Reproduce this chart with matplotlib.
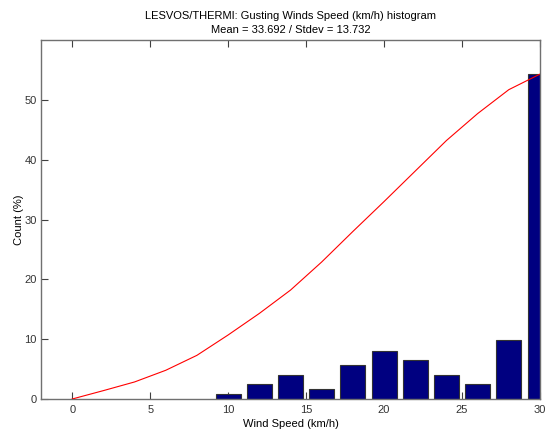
import matplotlib
matplotlib.use("Agg")
import matplotlib.pyplot as plt

# Data
bin_centers = [10, 12, 14, 16, 18, 20, 22, 24, 26, 28, 30]
counts = [0.85, 2.45, 4.0, 1.6, 5.6, 8.1, 6.45, 4.0, 2.45, 9.8, 54.4]
curve_x = [0, 2, 4, 6, 8, 10, 12, 14, 16, 18, 20, 22, 24, 26, 28, 30]
curve_y = [0, 1.4, 2.85, 4.8, 7.3, 10.7, 14.3, 18.2, 22.9, 28.0, 33.0, 38.1, 43.2, 47.7, 51.7, 54.3]
xticks = [0, 5, 10, 15, 20, 25, 30]
yticks = [0, 10, 20, 30, 40, 50]
title_text = "LESVOS/THERMI: Gusting Winds Speed (km/h) histogram\nMean = 33.692 / Stdev = 13.732"

plt.rcParams['font.family'] = ['Liberation Sans', 'DejaVu Sans']
plt.rcParams['font.size'] = 8

W, H = 545, 429
fig = plt.figure(figsize=(W / 100, H / 100), dpi=100)
l, r, b, t = 41, 540, 399, 40
ax = fig.add_axes([l / W, 1 - b / H, (r - l) / W, (b - t) / H])

ax.bar(bin_centers, counts, width=1.6, color='#000080', edgecolor='#333333', linewidth=0.8, zorder=2)
ax.plot(curve_x, curve_y, color='#ff0000', lw=0.8, zorder=3)

ax.set_xlim(-2, 30)
ax.set_ylim(0, 60)
ax.set_xticks(xticks)
ax.set_yticks(yticks)

spine_col = '#707070'
for s in ax.spines.values():
    s.set_color(spine_col)
    s.set_linewidth(1.0)
ax.tick_params(axis='both', direction='in', length=5, width=0.8, color='#404040',
               labelcolor='#333333', labelsize=8, top=True, right=False)
ax.tick_params(axis='x', pad=4)
ax.tick_params(axis='y', pad=3)

ax.set_title(title_text, fontsize=8, linespacing=1.45, pad=5)
ax.set_xlabel("Wind Speed (km/h)", fontsize=8, labelpad=3)
ax.set_ylabel("Count (%)", fontsize=8, labelpad=0)

fig.savefig("out.png", dpi=100)
